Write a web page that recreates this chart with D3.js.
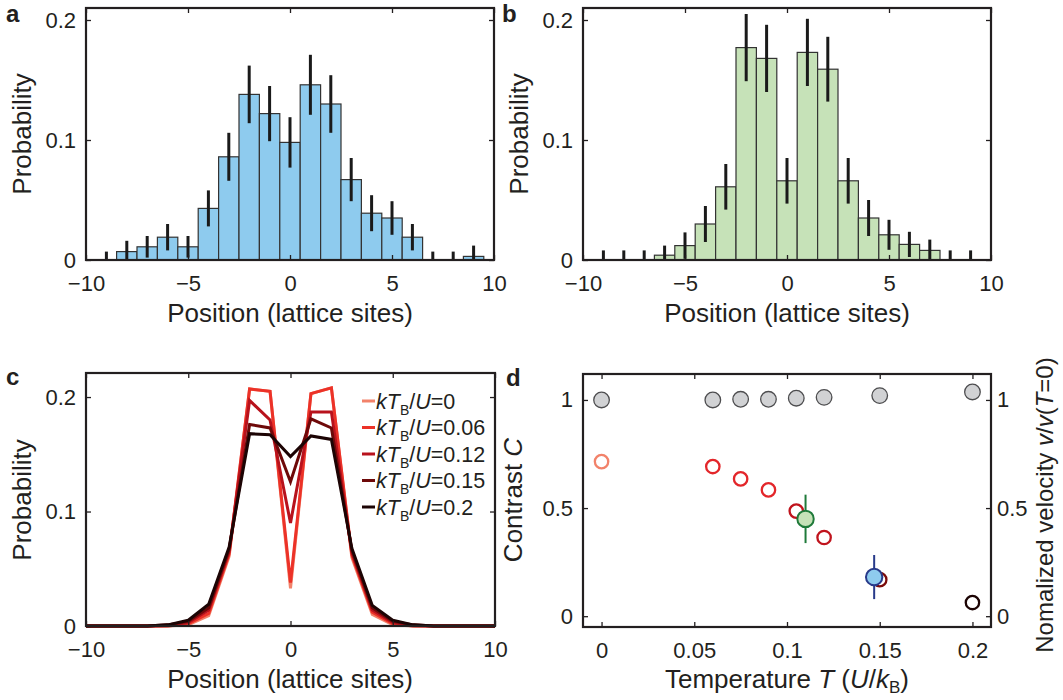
<!DOCTYPE html>
<html>
<head>
<meta charset="utf-8">
<script src="https://cdn.jsdelivr.net/npm/d3@7"></script>
<style>
  body { margin: 0; background: #fff; }
  text { font-family: "Liberation Sans", Arial, Helvetica, sans-serif; fill: #231f20; }
</style>
</head>
<body>
<svg id="chart" width="1063" height="700"></svg>
<script>
// ---- data ----
var positions = [-10,-9,-8,-7,-6,-5,-4,-3,-2,-1,0,1,2,3,4,5,6,7,8,9,10];

// panel a (measured, blue) bins -9..9
var binsA   = [-9,-8,-7,-6,-5,-4,-3,-2,-1,0,1,2,3,4,5,6,7,8,9];
var probA   = [0,0.007,0.011,0.019,0.011,0.043,0.086,0.138,0.122,0.098,0.146,0.130,0.067,0.039,0.035,0.019,0,0,0.003];
var errA    = [0.007,0.009,0.009,0.011,0.009,0.015,0.020,0.024,0.023,0.021,0.025,0.024,0.018,0.015,0.014,0.011,0.007,0.007,0.009];

// panel b (measured, green)
var binsB   = [-9,-8,-7,-6,-5,-4,-3,-2,-1,0,1,2,3,4,5,6,7,8,9];
var probB   = [0,0,0,0.004,0.012,0.030,0.061,0.177,0.168,0.066,0.173,0.159,0.066,0.035,0.021,0.013,0.008,0,0];
var errB    = [0.008,0.008,0.008,0.008,0.011,0.015,0.019,0.028,0.028,0.019,0.028,0.027,0.019,0.015,0.0125,0.0105,0.009,0.008,0.008];

// panel c (theory curves)
var tempLabels = ["0", "0.06", "0.12", "0.15", "0.2"];
var tempColors = ["#f2826a", "#ec3228", "#b8121c", "#6e0909", "#1c0404"];
var curveT0   = [0,0,0,0,0,0.001,0.009,0.061,0.207,0.205,0.033,0.203,0.208,0.060,0.010,0.001,0,0,0,0,0];
var curveT006 = [0,0,0,0,0,0.002,0.011,0.063,0.207,0.205,0.038,0.203,0.208,0.062,0.012,0.002,0,0,0,0,0];
var curveT012 = [0,0,0,0,0.0005,0.003,0.014,0.065,0.197,0.180,0.090,0.187,0.187,0.064,0.014,0.003,0.0005,0,0,0,0];
var curveT015 = [0,0,0,0,0.001,0.004,0.016,0.067,0.176,0.173,0.126,0.181,0.173,0.066,0.016,0.004,0.001,0,0,0,0];
var curveT02  = [0,0,0,0,0.001,0.005,0.019,0.069,0.168,0.167,0.148,0.166,0.163,0.068,0.018,0.005,0.001,0,0,0,0];
var curves = [curveT0, curveT006, curveT012, curveT015, curveT02];

// panel d
var tempsD     = [0, 0.06, 0.075, 0.09, 0.105, 0.12, 0.15, 0.2];
var velocity   = [1.0, 1.0, 1.003, 1.003, 1.008, 1.012, 1.02, 1.037];
var contrast   = [0.715, 0.692, 0.635, 0.584, 0.486, 0.364, 0.169, 0.063];
var contrastCol= ["#f2826a", "#e3262a", "#e3262a", "#e3262a", "#c0141d", "#c0141d", "#7a0b0b", "#1c0404"];
var measT      = [0.11, 0.147];
var measC      = [0.450, 0.181];
var measErr    = [0.112, 0.102];
var measFill   = ["#c6e2b8", "#8ecbee"];
var measStroke = ["#1f7a3a", "#283a8a"];

var svg = d3.select("#chart");
var ink = "#231f20";

function frame(x, y, xt, yt, opt) {
  opt = opt || {};
  var g = svg.append("g");
  var x0 = x.range()[0], x1 = x.range()[1], y0 = y.range()[0], y1 = y.range()[1];
  // inward ticks on all sides
  g.append("g").attr("transform", "translate(0," + y0 + ")")
    .call(d3.axisBottom(x).tickValues(xt).tickSizeInner(-5).tickSizeOuter(0).tickPadding(15)
      .tickFormat(opt.xfmt || d3.format("d")));
  g.append("g").attr("transform", "translate(0," + y1 + ")")
    .call(d3.axisTop(x).tickValues(xt).tickSizeInner(-5).tickSizeOuter(0).tickFormat(""));
  g.append("g").attr("transform", "translate(" + x0 + ",0)")
    .call(d3.axisLeft(y).tickValues(yt).tickSizeInner(-5).tickSizeOuter(0).tickPadding(10)
      .tickFormat(opt.yfmt || d3.format("")));
  g.append("g").attr("transform", "translate(" + x1 + ",0)")
    .call(d3.axisRight(y).tickValues(yt).tickSizeInner(-5).tickSizeOuter(0).tickPadding(6)
      .tickFormat(opt.rightLabels ? (opt.yfmt || d3.format("")) : ""));
  g.selectAll(".domain").remove();
  g.selectAll(".tick line").attr("stroke", ink).attr("stroke-width", 1.3);
  g.selectAll(".tick text").attr("font-size", 22).attr("fill", ink)
    .attr("font-family", "Liberation Sans, Arial, sans-serif");
  g.append("rect").attr("x", x0).attr("y", y1).attr("width", x1 - x0).attr("height", y0 - y1)
    .attr("fill", "none").attr("stroke", ink).attr("stroke-width", 2.2);
  return g;
}

function panelLetter(txt, px, py) {
  svg.append("text").attr("x", px).attr("y", py).text(txt)
    .attr("font-size", 24).attr("font-weight", "bold");
}

function yLabel(txt, cx, cy) {
  return svg.append("text").attr("transform", "translate(" + cx + "," + cy + ") rotate(-90)")
    .attr("text-anchor", "middle").attr("font-size", 26).text(txt);
}

function xLabel(cx, cy) {
  return svg.append("text").attr("x", cx).attr("y", cy).attr("text-anchor", "middle")
    .attr("font-size", 26);
}

// ---- histograms a & b ----
function histogram(left, right, bins, probs, errs, fill) {
  var x = d3.scaleLinear().domain([-10, 10]).range([left, right]);
  var y = d3.scaleLinear().domain([0, 0.21]).range([260, 8]);
  var g = svg.append("g");
  var w = x(1) - x(0);
  g.selectAll("rect").data(bins.filter(function (b, i) { return probs[i] > 0; }))
    .enter().append("rect")
    .attr("x", function (b) { return x(b - 0.5); })
    .attr("width", w)
    .attr("y", function (b) { return y(probs[bins.indexOf(b)]); })
    .attr("height", function (b) { return y(0) - y(probs[bins.indexOf(b)]); })
    .attr("fill", fill).attr("stroke", "#333").attr("stroke-width", 1.2);
  g.selectAll("line.err").data(bins).enter().append("line")
    .attr("x1", function (b) { return x(b); }).attr("x2", function (b) { return x(b); })
    .attr("y1", function (b, i) { return y(Math.max(0, probs[i] - errs[i])); })
    .attr("y2", function (b, i) { return y(probs[i] + errs[i]); })
    .attr("stroke", "#1a1a1a").attr("stroke-width", 3);
  frame(x, y, [-10, -5, 0, 5, 10], [0, 0.1, 0.2]);
  return x;
}

histogram(86, 494, binsA, probA, errA, "#8ecbee");
histogram(583, 991, binsB, probB, errB, "#c6e2b8");

panelLetter("a", 6, 22);
panelLetter("b", 502, 22);
yLabel("Probability", 31, 134);
yLabel("Probability", 528, 134);
xLabel(290, 322).text("Position (lattice sites)");
xLabel(787, 322).text("Position (lattice sites)");

// ---- panel c ----
(function () {
  var x = d3.scaleLinear().domain([-10, 10]).range([86, 495]);
  var y = d3.scaleLinear().domain([0, 0.221]).range([626, 373]);
  var line = d3.line().x(function (d, i) { return x(positions[i]); }).y(function (d) { return y(d); });
  var g = svg.append("g");
  curves.forEach(function (c, k) {
    g.append("path").datum(c).attr("d", line).attr("fill", "none")
      .attr("stroke", tempColors[k]).attr("stroke-width", 3).attr("stroke-linejoin", "miter");
  });
  frame(x, y, [-10, -5, 0, 5, 10], [0, 0.1, 0.2]);
  // legend
  var lg = svg.append("g");
  tempLabels.forEach(function (t, k) {
    var ly = 401 + k * 26.5;
    lg.append("line").attr("x1", 362).attr("x2", 375).attr("y1", ly).attr("y2", ly)
      .attr("stroke", tempColors[k]).attr("stroke-width", 3);
    var tx = lg.append("text").attr("x", 376).attr("y", ly + 7.5).attr("font-size", 21.5);
    tx.append("tspan").attr("font-style", "italic").text("kT");
    tx.append("tspan").attr("font-size", 14).attr("dy", 6).text("B");
    tx.append("tspan").attr("dy", -6).text("/");
    tx.append("tspan").attr("font-style", "italic").text("U");
    tx.append("tspan").text("=" + t);
  });
})();
panelLetter("c", 6, 385);
yLabel("Probability", 31, 500);
xLabel(290, 688).text("Position (lattice sites)");

// ---- panel d ----
(function () {
  var x = d3.scaleLinear().domain([-0.01, 0.21]).range([583, 991]);
  var y = d3.scaleLinear().domain([-0.05, 1.12]).range([627, 374]);
  var g = svg.append("g");
  // velocity
  g.selectAll("circle.v").data(tempsD).enter().append("circle")
    .attr("cx", function (t) { return x(t); })
    .attr("cy", function (t, i) { return y(velocity[i]); })
    .attr("r", 7.8).attr("fill", "#d1d2d4").attr("stroke", "#4d4d4f").attr("stroke-width", 1.3);
  // contrast (theory)
  g.selectAll("circle.c").data(tempsD).enter().append("circle")
    .attr("cx", function (t) { return x(t); })
    .attr("cy", function (t, i) { return y(contrast[i]); })
    .attr("r", 6.7).attr("fill", "none")
    .attr("stroke", function (t, i) { return contrastCol[i]; }).attr("stroke-width", 2.3);
  // measured
  measT.forEach(function (t, i) {
    g.append("line").attr("x1", x(t)).attr("x2", x(t))
      .attr("y1", y(measC[i] - measErr[i])).attr("y2", y(measC[i] + measErr[i]))
      .attr("stroke", measStroke[i]).attr("stroke-width", 2);
    g.append("circle").attr("cx", x(t)).attr("cy", y(measC[i])).attr("r", 8.2)
      .attr("fill", measFill[i]).attr("stroke", measStroke[i]).attr("stroke-width", 2);
  });
  var fmt = function (v) { return v === 0 ? "0" : String(v); };
  frame(x, y, [0, 0.05, 0.1, 0.15, 0.2], [0, 0.5, 1], { xfmt: fmt, yfmt: fmt, rightLabels: true });
})();
panelLetter("d", 506, 386);
(function () {
  var t = yLabel("", 522, 500);
  t.append("tspan").text("Contrast ");
  t.append("tspan").attr("font-style", "italic").text("C");
  var r = yLabel("", 1053, 505).attr("font-size", 24);
  r.append("tspan").text("Nomalized velocity ");
  r.append("tspan").attr("font-style", "italic").text("v");
  r.append("tspan").text("/");
  r.append("tspan").attr("font-style", "italic").text("v");
  r.append("tspan").text("(");
  r.append("tspan").attr("font-style", "italic").text("T");
  r.append("tspan").text("=0)");
  var xl = xLabel(787, 688);
  xl.append("tspan").text("Temperature ");
  xl.append("tspan").attr("font-style", "italic").text("T");
  xl.append("tspan").text(" (");
  xl.append("tspan").attr("font-style", "italic").text("U");
  xl.append("tspan").text("/");
  xl.append("tspan").attr("font-style", "italic").text("k");
  xl.append("tspan").attr("font-size", 17).attr("dy", 5).text("B");
  xl.append("tspan").attr("dy", -5).text(")");
})();
</script>
</body>
</html>
